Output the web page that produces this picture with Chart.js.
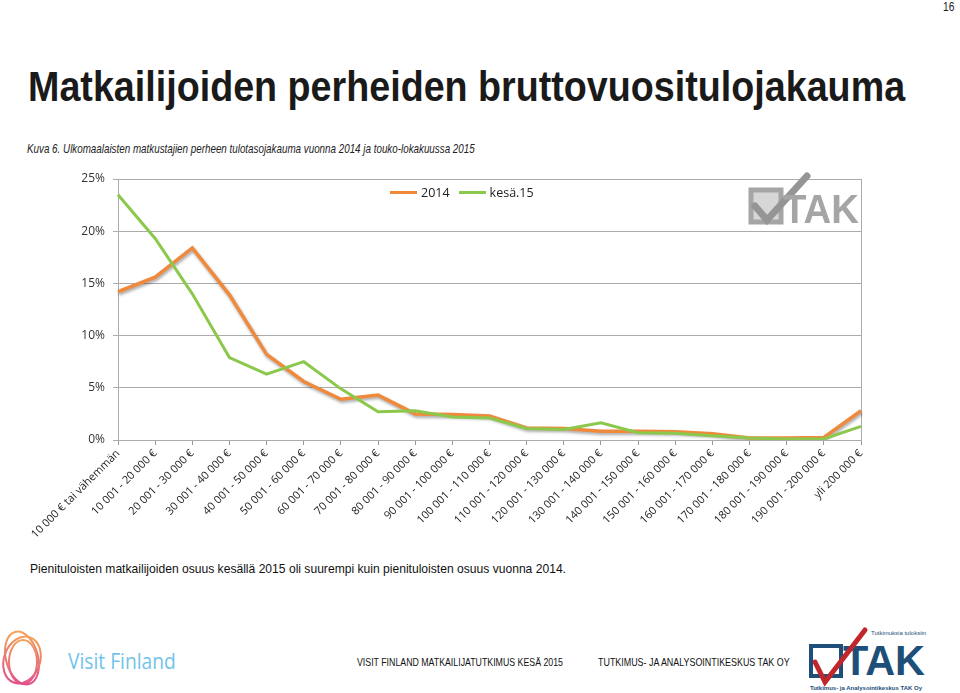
<!DOCTYPE html>
<html>
<head>
<meta charset="utf-8">
<script src="https://cdn.jsdelivr.net/npm/chart.js@4.4.0/dist/chart.umd.min.js"></script>
<style>
    body { margin: 0; width: 960px; height: 693px; background: #fff; position: relative; overflow: hidden; font-family: "Liberation Sans", Arial, sans-serif; color: #222; }
    .abs { position: absolute; white-space: nowrap; transform-origin: 0 0; }
    #chartBox { position: absolute; left: 0; top: 160px; width: 960px; height: 390px; }
    .legend { position: absolute; top: 184px; left: 390px; display: flex; align-items: center; font-family: "Open Sans", sans-serif; font-size: 12.5px; color: #222; }
    .legend span.sw { display: inline-block; width: 27px; height: 3px; margin-right: 4px; }
    .legend span.lb { margin-right: 9px; }
</style>
</head>
<body>

<div class="abs" style="left:943px; top:-1px; font-size:13px;" data-w="11">16</div>
<div class="abs" style="left:28px; top:62px; font-size:43px; font-weight:bold; color:#1a1a1a;" data-w="877">Matkailijoiden perheiden bruttovuositulojakauma</div>
<div class="abs" style="left:27px; top:141px; font-size:13px; font-style:italic; color:#222;" data-w="448">Kuva 6. Ulkomaalaisten matkustajien perheen tulotasojakauma vuonna 2014 ja touko-lokakuussa 2015</div>

<div id="chartBox"><canvas id="incomeChart" width="960" height="390"></canvas></div>
<div class="legend" id="legend"></div>

<svg class="abs" style="left:745px; top:170px;" width="120" height="60" viewBox="0 0 120 60">
    <rect x="6" y="20" width="30" height="32" fill="#d6d6d6" stroke="#a5a5a5" stroke-width="5"/>
    <path d="M10 36 L22 50 L62 6" fill="none" stroke="#959595" stroke-width="7" stroke-linecap="round"/>
    <text x="38" y="53" font-family="Liberation Sans, Arial" font-weight="bold" font-size="40" fill="#a5a5a5" textLength="76" lengthAdjust="spacingAndGlyphs">TAK</text>
</svg>

<div class="abs" style="left:30px; top:561px; font-size:13px; color:#111;" data-w="536">Pienituloisten matkailijoiden osuus kesällä 2015 oli suurempi kuin pienituloisten osuus vuonna 2014.</div>

<svg class="abs" style="left:0px; top:620px;" width="50" height="73" viewBox="0 0 50 73">
    <defs>
        <linearGradient id="vf" x1="0" y1="0" x2="0" y2="1">
            <stop offset="0" stop-color="#f3a25a"/>
            <stop offset="1" stop-color="#e0508a"/>
        </linearGradient>
    </defs>
    <ellipse cx="22" cy="38" rx="16" ry="27" fill="none" stroke="url(#vf)" stroke-width="2" transform="rotate(-15 22 38)"/>
    <ellipse cx="22" cy="40" rx="18" ry="24" fill="none" stroke="url(#vf)" stroke-width="2" transform="rotate(20 22 40)"/>
    <ellipse cx="23" cy="42" rx="14" ry="22" fill="none" stroke="url(#vf)" stroke-width="2"/>
</svg>
<div class="abs" style="left:68px; top:647px; font-size:21px; color:#72c3e8; font-family:'Open Sans',sans-serif;" data-w="108">Visit Finland</div>

<div class="abs" style="left:357px; top:656px; font-size:11px; color:#111;" data-w="206">VISIT FINLAND MATKAILIJATUTKIMUS KESÄ 2015</div>
<div class="abs" style="left:598px; top:656px; font-size:11px; color:#111;" data-w="192">TUTKIMUS- JA ANALYSOINTIKESKUS TAK OY</div>

<svg class="abs" style="left:805px; top:624px;" width="125" height="69" viewBox="0 0 125 69">
    <text x="66" y="11" font-family="Liberation Sans, Arial" font-size="6" fill="#1d4f79">Tutkimuksia tuloksiin</text>
    <rect x="6" y="22" width="30" height="30" fill="none" stroke="#1d4f79" stroke-width="4"/>
    <text x="38" y="51" font-family="Liberation Sans, Arial" font-weight="bold" font-size="42" fill="#1d4f79" textLength="82" lengthAdjust="spacingAndGlyphs">TAK</text>
    <path d="M10 38 L20 58 L60 6" fill="none" stroke="#c0272d" stroke-width="5" stroke-linecap="round"/>
    <text x="5" y="66" font-family="Liberation Sans, Arial" font-weight="bold" font-size="6" fill="#1d4f79" textLength="112" lengthAdjust="spacingAndGlyphs">Tutkimus- ja Analysointikeskus TAK Oy</text>
</svg>

<script>
const categories = [
    '10 000 € tai vähemmän', '10 001 - 20 000 €', '20 001 - 30 000 €', '30 001 - 40 000 €',
    '40 001 - 50 000 €', '50 001 - 60 000 €', '60 001 - 70 000 €', '70 001 - 80 000 €',
    '80 001 - 90 000 €', '90 001 - 100 000 €', '100 001 - 110 000 €', '110 001 - 120 000 €',
    '120 001 - 130 000 €', '130 001 - 140 000 €', '140 001 - 150 000 €', '150 001 - 160 000 €',
    '160 001 - 170 000 €', '170 001 - 180 000 €', '180 001 - 190 000 €', '190 001 - 200 000 €',
    'yli 200 000 €'
];
const series2014 = [14.2, 15.6, 18.4, 13.9, 8.2, 5.6, 3.9, 4.3, 2.5, 2.45, 2.3, 1.15, 1.1, 0.85, 0.85, 0.8, 0.6, 0.2, 0.2, 0.25, 2.8];
const seriesKesa15 = [23.5, 19.3, 14.0, 7.9, 6.3, 7.5, 4.9, 2.7, 2.8, 2.2, 2.1, 1.1, 1.0, 1.65, 0.7, 0.65, 0.4, 0.2, 0.1, 0.1, 1.3];
const yTicks = [0, 5, 10, 15, 20, 25];

const ORANGE = '#EF8A3D';
const GREEN = '#8CC84B';
const GRID = '#ababab';

// fit text blocks to the widths measured on the reference
document.querySelectorAll('[data-w]').forEach(el => {
    const target = parseFloat(el.dataset.w);
    const w = el.offsetWidth;
    if (w > 0) el.style.transform = `scaleX(${target / w})`;
});

// shadow under the 2014 line, as in the Excel original
const shadowPlugin = {
    id: 'lineShadow',
    beforeDatasetDraw(chart, args) {
        if (args.index !== 0) return;
        const ctx = chart.ctx;
        ctx.save();
        ctx.shadowColor = 'rgba(0,0,0,0.35)';
        ctx.shadowOffsetX = 1;
        ctx.shadowOffsetY = 2;
        ctx.shadowBlur = 3;
    },
    afterDatasetDraw(chart, args) {
        if (args.index !== 0) return;
        chart.ctx.restore();
    }
};

const framePlugin = {
    id: 'frame',
    beforeDatasetsDraw(chart) {
        const { ctx, chartArea: a } = chart;
        ctx.save();
        ctx.strokeStyle = GRID;
        ctx.lineWidth = 1;
        ctx.strokeRect(Math.round(a.left) + 0.5, Math.round(a.top) + 0.5, Math.round(a.right - a.left), Math.round(a.bottom - a.top));
        ctx.restore();
    }
};

const ctx = document.getElementById('incomeChart').getContext('2d');
const incomeChart = new Chart(ctx, {
    type: 'line',
    data: {
        labels: categories,
        datasets: [
            { label: '2014', data: series2014, borderColor: ORANGE, backgroundColor: ORANGE, borderWidth: 3.5, pointRadius: 0, tension: 0, order: 1 },
            { label: 'kesä.15', data: seriesKesa15, borderColor: GREEN, backgroundColor: GREEN, borderWidth: 3, pointRadius: 0, tension: 0, order: 0 }
        ]
    },
    options: {
        responsive: false,
        animation: false,
        layout: { padding: { left: 0, right: 99, top: 19, bottom: 0 } },
        plugins: { legend: { display: false }, tooltip: { enabled: false } },
        scales: {
            x: {
                grid: { display: true, drawOnChartArea: false, tickLength: 5, color: '#999' },
                border: { color: '#999' },
                ticks: { autoSkip: false, minRotation: 45, maxRotation: 45, padding: 2, color: '#222', font: { family: 'Open Sans', size: 11 } },
                afterFit: s => { s.height = 110; }
            },
            y: {
                min: 0, max: 25,
                afterBuildTicks: s => { s.ticks = yTicks.map(v => ({ value: v })); },
                grid: { color: GRID, tickLength: 5 },
                border: { color: '#999' },
                ticks: { padding: 8, color: '#333', font: { family: 'Open Sans', size: 12 }, callback: v => v + '%' },
                afterFit: s => { s.width = 118; }
            }
        }
    },
    plugins: [shadowPlugin, framePlugin]
});

// legend drawn as html from the chart's datasets
document.getElementById('legend').innerHTML = incomeChart.data.datasets.map(d => `
    <span class="sw" style="background:${d.borderColor}"></span><span class="lb">${d.label}</span>
`).join('');
</script>
</body>
</html>
